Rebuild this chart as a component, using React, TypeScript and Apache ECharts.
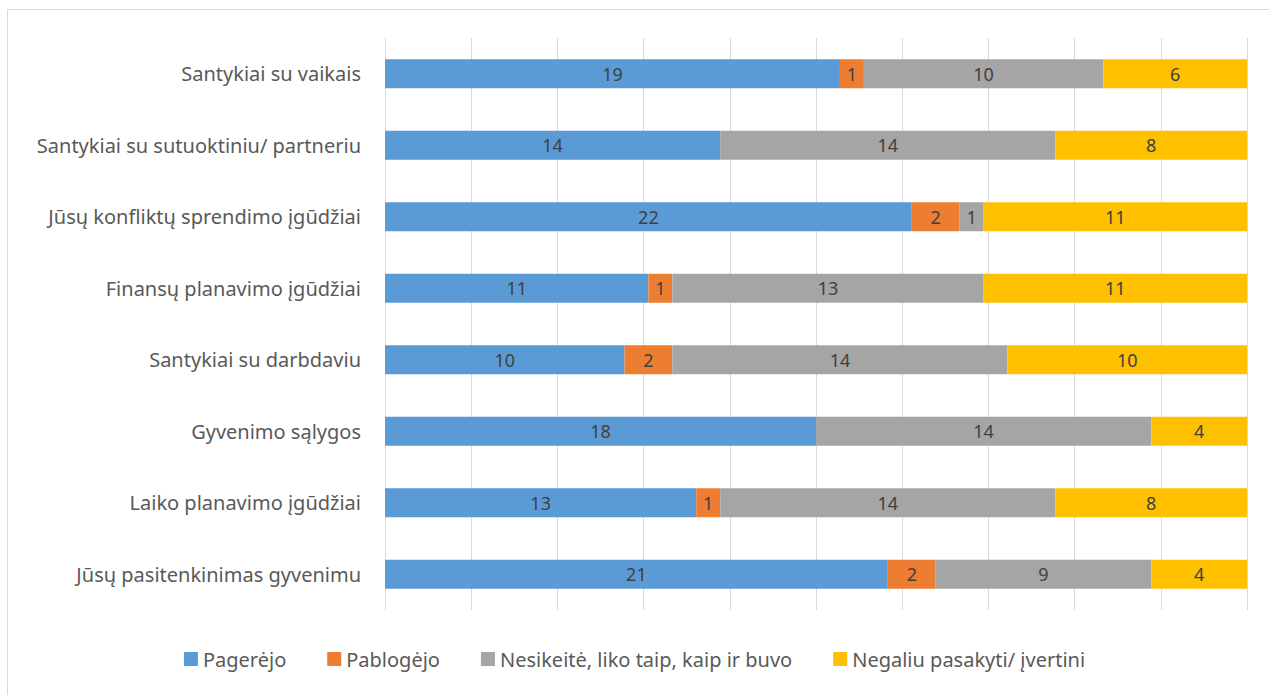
import React, { useEffect, useRef } from "react";
import * as echarts from "echarts";

const categories = [
  "Santykiai su vaikais",
  "Santykiai su sutuoktiniu/ partneriu",
  "Jūsų konfliktų sprendimo įgūdžiai",
  "Finansų planavimo įgūdžiai",
  "Santykiai su darbdaviu",
  "Gyvenimo sąlygos",
  "Laiko planavimo įgūdžiai",
  "Jūsų pasitenkinimas gyvenimu",
];

const seriesNames = [
  "Pagerėjo",
  "Pablogėjo",
  "Nesikeitė, liko taip, kaip ir buvo",
  "Negaliu pasakyti/ įvertini",
];

const pagerejo = [19, 14, 22, 11, 10, 18, 13, 21];
const pablogejo = [1, null, 2, 1, 2, null, 1, 2];
const nesikeite = [10, 14, 1, 13, 14, 14, 14, 9];
const negaliu = [6, 8, 11, 11, 10, 4, 8, 4];

const colors = ["#5B9BD5", "#ED7D31", "#A5A5A5", "#FFC000"];
const FONT = "'Noto Sans', 'Open Sans', sans-serif";

export default function App() {
  const ref = useRef<HTMLDivElement>(null);
  useEffect(() => {
    document.body.style.margin = "0";
    const chart = echarts.init(ref.current!, undefined, { renderer: "svg" });
    const data = [pagerejo, pablogejo, nesikeite, negaliu];
    chart.setOption({
      animation: false,
      textStyle: { fontFamily: FONT },
      graphic: [
        {
          type: "rect",
          shape: { x: 7.5, y: 9.5, width: 1300, height: 700 },
          style: { fill: "none", stroke: "#D9D9D9", lineWidth: 1 },
          silent: true,
          z: -10,
        },
      ],
      grid: { left: 385, right: 22, top: 38, bottom: 85, containLabel: false },
      legend: {
        bottom: 21,
        left: "center",
        itemWidth: 14,
        itemHeight: 14,
        itemGap: 41,
        icon: "rect",
        textStyle: { fontSize: 20, color: "#595959", fontFamily: FONT },
        data: seriesNames,
      },
      xAxis: {
        type: "value",
        min: 0,
        max: 36,
        interval: 3.6,
        axisLabel: { show: false },
        axisTick: { show: false },
        axisLine: { show: false },
        splitLine: { show: true, lineStyle: { color: "#D9D9D9", width: 1 } },
      },
      yAxis: {
        type: "category",
        inverse: true,
        data: categories,
        axisTick: { show: false },
        axisLine: { show: true, lineStyle: { color: "#D9D9D9", width: 1 } },
        axisLabel: { fontSize: 20, color: "#595959", margin: 24, fontFamily: FONT },
      },
      series: seriesNames.map((name, i) => ({
        name,
        type: "bar",
        stack: "total",
        barWidth: 29,
        itemStyle: { color: colors[i] },
        label: {
          show: true,
          position: "inside",
          color: "#404040",
          fontSize: 18,
          fontFamily: FONT,
          formatter: (p: any) => (p.value == null ? "" : String(p.value)),
        },
        data: data[i],
      })),
    });
    return () => chart.dispose();
  }, []);
  return <div ref={ref} style={{ width: 1269, height: 695 }} />;
}
